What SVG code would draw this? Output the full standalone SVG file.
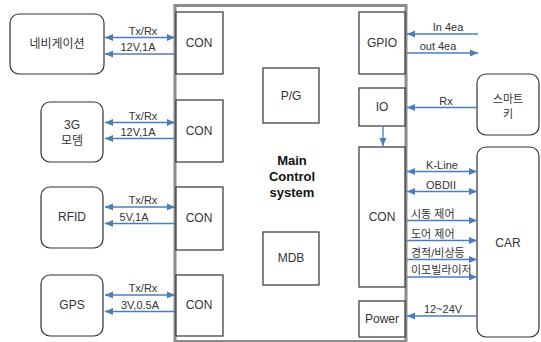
<svg xmlns="http://www.w3.org/2000/svg" width="541" height="342" viewBox="0 0 541 342">
<defs>
<style>
.box{fill:#fff;stroke:#333;stroke-width:1.2}
.rnd{fill:#fff;stroke:#333;stroke-width:1.2}
.main{fill:#fff;stroke:#8c8c8c;stroke-width:3}
.ln{stroke:#4a7ebb;stroke-width:1.3;fill:none}
text{font-family:"Liberation Sans","Noto Sans CJK KR",sans-serif;fill:#333;font-size:11px}
.c{text-anchor:middle;dominant-baseline:central;font-size:12px}
.k{text-anchor:middle;dominant-baseline:central;font-size:11px}
.m{text-anchor:middle;font-size:11px}
.s{font-size:11px}
.b{font-weight:bold;font-size:13px;fill:#111;text-anchor:middle;dominant-baseline:central}
</style>
<marker id="ae" viewBox="0 0 8 8" refX="8" refY="4" markerWidth="8" markerHeight="8" markerUnits="userSpaceOnUse" orient="auto"><path d="M0,0.5 L8,4 L0,7.5 Z" fill="#4a7ebb"/></marker>
<marker id="as" viewBox="0 0 8 8" refX="0" refY="4" markerWidth="8" markerHeight="8" markerUnits="userSpaceOnUse" orient="auto"><path d="M8,0.5 L0,4 L8,7.5 Z" fill="#4a7ebb"/></marker>
</defs>
<rect width="541" height="342" fill="#fff"/>
<g id="main">
<rect class="main" x="175" y="5.5" width="231" height="336"/>
<text class="b" x="292" y="160">Main</text>
<text class="b" x="292" y="176">Control</text>
<text class="b" x="292" y="192">system</text>
</g>
<g id="nav"><rect class="rnd" x="10" y="14" width="94" height="60" rx="9"/><text class="c" x="57" y="44">네비게이션</text></g>
<g id="modem"><rect class="rnd" x="41" y="102" width="62" height="60" rx="9"/><text class="c" x="72" y="125">3G</text><text class="c" x="72" y="141">모뎀</text></g>
<g id="rfid"><rect class="rnd" x="41" y="187" width="62" height="61" rx="9"/><text class="c" x="72" y="217">RFID</text></g>
<g id="gps"><rect class="rnd" x="41" y="275" width="62" height="61" rx="9"/><text class="c" x="72" y="305">GPS</text></g>
<g id="con1"><rect class="box" x="176" y="12" width="47" height="62"/><text class="c" x="199" y="43">CON</text></g>
<g id="con2"><rect class="box" x="176" y="100" width="47" height="62"/><text class="c" x="199" y="131">CON</text></g>
<g id="con3"><rect class="box" x="176" y="187" width="47" height="63"/><text class="c" x="199" y="218">CON</text></g>
<g id="con4"><rect class="box" x="176" y="275" width="47" height="61"/><text class="c" x="199" y="305">CON</text></g>
<g id="pg"><rect class="box" x="263" y="68" width="56" height="55"/><text class="c" x="291" y="96">P/G</text></g>
<g id="mdb"><rect class="box" x="263" y="232" width="56" height="53"/><text class="c" x="291" y="258">MDB</text></g>
<g id="gpio"><rect class="box" x="359" y="12" width="46" height="62"/><text class="c" x="382" y="43">GPIO</text></g>
<g id="io"><rect class="box" x="359" y="88" width="46" height="38"/><text class="c" x="382" y="107">IO</text></g>
<g id="con5"><rect class="box" x="359" y="147" width="46" height="140"/><text class="c" x="382" y="217">CON</text></g>
<g id="power"><rect class="box" x="359" y="301" width="46" height="36"/><text class="c" x="382" y="319">Power</text></g>
<g id="smartkey"><rect class="rnd" x="477" y="74" width="62" height="61" rx="9"/><text class="k" x="508" y="99">스마트</text><text class="k" x="508" y="114">키</text></g>
<g id="car"><rect class="rnd" x="477" y="147" width="62" height="190" rx="9"/><text class="c" x="508" y="243">CAR</text></g>
<g id="connectors">
<line class="ln" x1="105" y1="37.5" x2="175" y2="37.5" marker-start="url(#as)" marker-end="url(#ae)"/>
<line class="ln" x1="175" y1="54" x2="105" y2="54" marker-end="url(#ae)"/>
<line class="ln" x1="105" y1="122.5" x2="175" y2="122.5" marker-start="url(#as)" marker-end="url(#ae)"/>
<line class="ln" x1="175" y1="138.5" x2="105" y2="138.5" marker-end="url(#ae)"/>
<line class="ln" x1="105" y1="207" x2="175" y2="207" marker-start="url(#as)" marker-end="url(#ae)"/>
<line class="ln" x1="175" y1="223.5" x2="105" y2="223.5" marker-end="url(#ae)"/>
<line class="ln" x1="105" y1="295" x2="175" y2="295" marker-start="url(#as)" marker-end="url(#ae)"/>
<line class="ln" x1="175" y1="311.5" x2="105" y2="311.5" marker-end="url(#ae)"/>
<line class="ln" x1="478" y1="34" x2="407" y2="34" marker-end="url(#ae)"/>
<line class="ln" x1="407" y1="53" x2="478" y2="53" marker-end="url(#ae)"/>
<line class="ln" x1="477" y1="107.5" x2="407" y2="107.5" marker-end="url(#ae)"/>
<line class="ln" x1="383" y1="126" x2="383" y2="146" marker-end="url(#ae)"/>
<line class="ln" x1="407" y1="171.5" x2="477" y2="171.5" marker-start="url(#as)" marker-end="url(#ae)"/>
<line class="ln" x1="407" y1="191.5" x2="477" y2="191.5" marker-start="url(#as)" marker-end="url(#ae)"/>
<line class="ln" x1="407" y1="220.5" x2="477" y2="220.5" marker-end="url(#ae)"/>
<line class="ln" x1="407" y1="240.5" x2="477" y2="240.5" marker-end="url(#ae)"/>
<line class="ln" x1="407" y1="259.5" x2="477" y2="259.5" marker-end="url(#ae)"/>
<line class="ln" x1="407" y1="277" x2="477" y2="277" marker-end="url(#ae)"/>
<line class="ln" x1="477" y1="316" x2="407" y2="316" marker-end="url(#ae)"/>
<text class="m" x="143" y="35">Tx/Rx</text>
<text class="m" x="138" y="51">12V,1A</text>
<text class="m" x="143" y="120">Tx/Rx</text>
<text class="m" x="138" y="136">12V,1A</text>
<text class="m" x="143" y="204">Tx/Rx</text>
<text class="m" x="134" y="221">5V,1A</text>
<text class="m" x="143" y="292">Tx/Rx</text>
<text class="m" x="140" y="309">3V,0.5A</text>
<text class="m" x="448" y="31">In 4ea</text>
<text class="m" x="438" y="50">out 4ea</text>
<text class="m" x="446" y="105">Rx</text>
<text class="m" x="442" y="169">K-Line</text>
<text class="m" x="441" y="189">OBDII</text>
<text class="s" x="411" y="218">시동 제어</text>
<text class="s" x="411" y="238">도어 제어</text>
<text class="s" x="411" y="257">경적/비상등</text>
<text class="s" x="411" y="274">이모빌라이저</text>
<text class="m" x="443" y="313">12~24V</text>
</g>
</svg>
